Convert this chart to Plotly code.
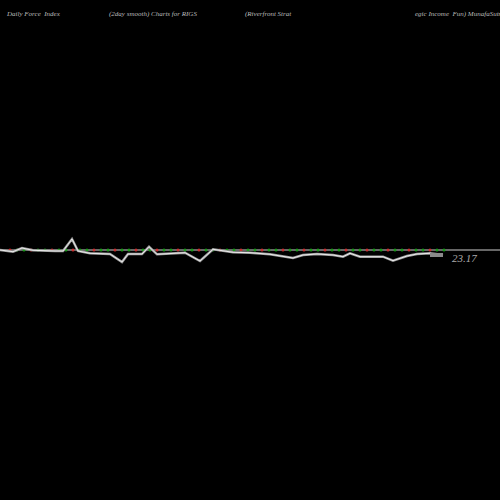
import plotly.graph_objects as go

# force index (2 day smoothed)
days = [0, 13, 22, 33, 55, 63, 72, 78, 90, 110, 122, 128, 142, 149, 157, 185, 200, 213, 233,
        250, 270, 293, 303, 317, 333, 343, 350, 360, 383, 393, 407, 417, 430, 443]
force = [0, -1.7, 2, -0.3, -1, -1, 11, -1, -3.3, -4, -12, -4, -4, 3.3, -4.3, -2.7, -11, 0.7, -2.3,
         -2.7, -4.3, -8, -5, -4, -5, -6.7, -3.3, -6.7, -6.7, -10.7, -6, -4, -3.3, -5]
last_value = "23.17"

dot_x = list(range(10, 445, 7))
dot_colors = ["#1a9a1a" if i % 3 else "#c83030" for i in range(len(dot_x))]

fig = go.Figure()
fig.add_trace(go.Scatter(x=[-5, 505], y=[0, 0], mode="lines",
                         line=dict(color="#8a8a8a", width=1.5), hoverinfo="skip"))
fig.add_trace(go.Scatter(x=dot_x, y=[0] * len(dot_x), mode="markers",
                         marker=dict(color=dot_colors, size=3)))
fig.add_trace(go.Scatter(x=days, y=force, mode="lines",
                         line=dict(color="#9a9a9a", width=2.5)))
fig.add_trace(go.Scatter(x=days, y=force, mode="lines",
                         line=dict(color="white", width=0.8)))
fig.add_trace(go.Scatter(x=[430, 443], y=[-5, -5], mode="lines",
                         line=dict(color="#8a8a8a", width=4)))

fig.add_annotation(x=450, y=-8, text=f"<i>{last_value}</i>", showarrow=False,
                   xanchor="left", font=dict(family="Liberation Serif", size=11, color="#aaaaaa"))

for xpos, txt in [(4, "Daily Force  Index"), (107, "(2day smooth) Charts for RIGS"),
                  (243, "(Riverfront Strat"), (413, "egic Income  Fun) MunafaSutra.com")]:
    fig.add_annotation(x=xpos, y=236, text=f"<i>{txt}</i>", showarrow=False, xanchor="left",
                       font=dict(family="Liberation Serif", size=7, color="#bbbbbb"))

fig.update_layout(
    width=500, height=500, margin=dict(l=0, r=0, t=0, b=0),
    paper_bgcolor="black", plot_bgcolor="black", showlegend=False,
    xaxis=dict(range=[0, 500], visible=False),
    yaxis=dict(range=[-250, 250], visible=False),
)

fig.write_html("out.html", config={"displayModeBar": False},
               post_script="document.body.style.margin='0';document.body.style.background='black';")
